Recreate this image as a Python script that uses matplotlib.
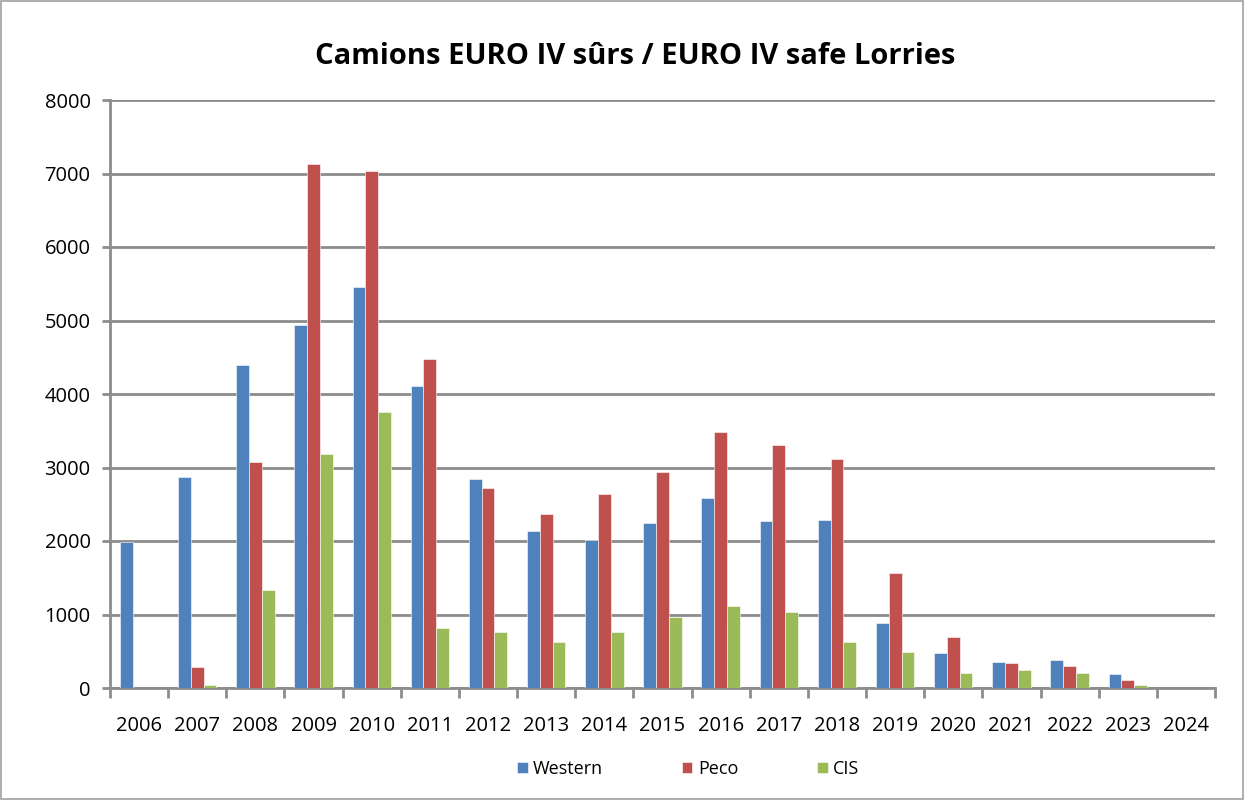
import matplotlib
matplotlib.use("Agg")
import matplotlib.pyplot as plt
import numpy as np
from matplotlib.patches import Rectangle

years = ["2006", "2007", "2008", "2009", "2010", "2011", "2012", "2013", "2014",
         "2015", "2016", "2017", "2018", "2019", "2020", "2021", "2022", "2023", "2024"]
western = [1990, 2865, 4400, 4940, 5455, 4110, 2840, 2130, 2010, 2240, 2590, 2275, 2290, 882, 475, 355, 375, 195, 0]
peco = [0, 285, 3070, 7135, 7030, 4470, 2720, 2365, 2645, 2940, 3485, 3310, 3120, 1570, 690, 335, 305, 105, 0]
cis = [0, 40, 1335, 3190, 3750, 812, 765, 625, 765, 960, 1115, 1040, 625, 495, 210, 245, 210, 35, 0]
series_names = ["Western", "Peco", "CIS"]
colors = ["#4F81BD", "#C0504D", "#9BBB59"]
title = "Camions EURO IV sûrs / EURO IV safe Lorries"
yticks = [0, 1000, 2000, 3000, 4000, 5000, 6000, 7000, 8000]

plt.rcParams['font.family'] = ['Open Sans', 'DejaVu Sans']

fig = plt.figure(figsize=(12.44, 8.0), dpi=100)
ax = fig.add_axes([110/1244, 1 - 688/800, (1215-110)/1244, (688-100)/800])

x = np.arange(len(years))
w = 0.22
for i, (vals, name, c) in enumerate(zip([western, peco, cis], series_names, colors)):
    ax.bar(x + (i - 1) * w, vals, width=w, color=c, label=name, zorder=3,
           edgecolor='white', linewidth=0.4)

ax.set_xlim(-0.5, len(years) - 0.5)
ax.set_ylim(0, 8000)
ax.set_yticks(yticks)
ax.set_yticklabels([str(v) for v in yticks], fontsize=14.5)
ax.yaxis.grid(True, color="#8c8c8c", linewidth=2, zorder=0)
ax.set_axisbelow(True)

ax.set_xticks(x)
ax.set_xticklabels(years, fontsize=14.5)
ax.set_xticks(np.arange(-0.5, len(years), 1), minor=True)
ax.tick_params(axis='x', which='major', length=0, pad=20)
ax.tick_params(axis='x', which='minor', length=7, width=2, color="#8c8c8c", direction='out')
ax.tick_params(axis='y', length=6, width=2, color="#8c8c8c", direction='out', pad=8)

for s in ['top', 'right']:
    ax.spines[s].set_visible(False)
for s in ['left', 'bottom']:
    ax.spines[s].set_color("#8c8c8c")
    ax.spines[s].set_linewidth(2)

fig.text(635/1244, 1 - 57/800, title, ha='center', va='center', fontsize=21, fontweight='bold')

leg = fig.legend(loc='center', bbox_to_anchor=(688/1244, 1 - 769/800), ncol=3, frameon=False,
                 fontsize=13, handlelength=0.6, handleheight=0.6, columnspacing=4.35, handletextpad=0.3)

fig.patches.append(Rectangle((0.001, 0.001), 0.998, 0.998, transform=fig.transFigure,
                             fill=False, edgecolor="#a0a0a0", linewidth=1.2))

fig.savefig("out.png", dpi=100)
